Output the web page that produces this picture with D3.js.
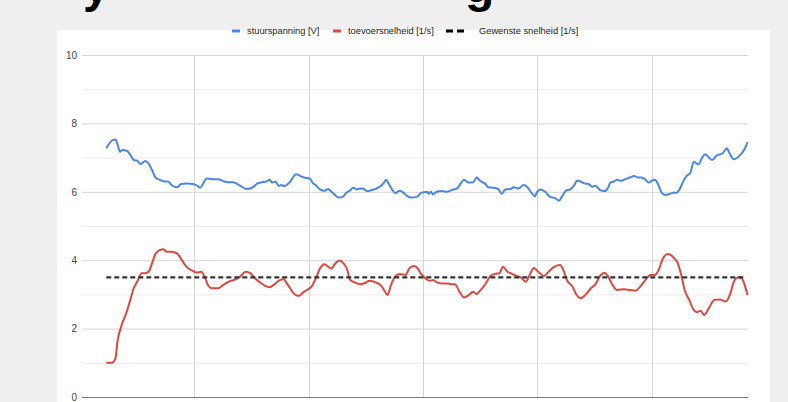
<!DOCTYPE html>
<html>
<head>
<meta charset="utf-8">
<script src="https://cdn.jsdelivr.net/npm/d3@7"></script>
<style>
  html, body { margin: 0; padding: 0; background: #efefef; }
  svg { display: block; }
  text { font-family: "Liberation Sans", Arial, sans-serif; }
</style>
</head>
<body>
<svg id="chart" width="788" height="402"></svg>
<script>
// Time axis in seconds, values per series
const stuurTijd = [2.3,2.8,3.1,3.3,3.5,3.7,4.1,4.4,4.7,5.0,5.3,5.7,6.0,6.3,6.6,7.0,7.4,7.7,8.0,8.5,8.8,9.3,9.9,10.3,10.5,11.1,11.5,12.1,12.5,13.0,13.4,14.0,14.6,15.2,15.5,15.9,16.3,16.6,16.8,17.1,17.4,17.6,17.9,18.4,18.9,19.3,19.6,20.1,20.4,20.6,21.0,21.4,21.7,22.0,22.3,22.6,23.0,23.3,23.6,23.9,24.2,24.5,24.8,25.1,25.5,25.9,26.3,26.6,26.8,27.0,27.3,27.6,27.9,28.2,28.6,29.0,29.5,29.8,30.1,30.4,30.5,30.7,30.9,31.2,31.7,32.1,32.5,33.0,33.3,33.6,34.0,34.4,34.7,35.0,35.5,35.7,36.2,36.6,36.9,37.2,37.7,37.9,38.4,38.8,39.1,39.5,39.8,40.0,40.3,40.7,41.1,41.6,41.9,42.2,42.5,42.9,43.2,43.5,43.8,44.2,44.5,44.8,45.1,45.5,45.9,46.2,46.4,46.7,47.0,47.3,47.7,48.1,48.5,48.8,49.1,49.4,49.8,50.0,50.3,50.6,50.9,51.2,51.6,51.9,52.2,52.5,52.8,53.1,53.4,53.7,54.1,54.4,54.7,55.0,55.3,55.7,56.2,56.6,56.8,57.2,57.7,58.1,58.4];
const stuurspanning = [7.27,7.50,7.53,7.37,7.17,7.22,7.20,7.08,6.93,6.91,6.81,6.90,6.83,6.64,6.42,6.35,6.30,6.30,6.20,6.13,6.22,6.24,6.23,6.17,6.12,6.39,6.37,6.37,6.32,6.28,6.28,6.18,6.08,6.15,6.24,6.28,6.30,6.35,6.27,6.30,6.17,6.20,6.17,6.30,6.51,6.46,6.42,6.39,6.24,6.20,6.07,6.03,6.08,6.00,5.91,5.83,5.86,5.97,6.03,6.12,6.07,6.10,6.09,6.02,6.05,6.09,6.17,6.27,6.35,6.24,6.07,5.96,6.03,6.00,5.88,5.83,5.86,5.96,5.99,6.00,5.94,6.00,5.92,6.00,6.02,6.00,6.05,6.10,6.24,6.35,6.27,6.28,6.42,6.32,6.22,6.13,6.12,6.08,5.94,6.07,6.08,6.13,6.10,6.20,6.15,5.97,5.87,6.00,6.07,6.00,5.86,5.81,5.74,5.88,6.03,6.07,6.17,6.32,6.30,6.24,6.23,6.15,6.18,6.05,6.02,6.12,6.27,6.30,6.35,6.32,6.37,6.42,6.46,6.42,6.42,6.37,6.27,6.32,6.35,6.20,5.97,5.91,5.94,5.97,5.97,6.10,6.32,6.47,6.56,6.88,6.80,6.98,7.10,7.01,6.93,7.06,7.12,7.27,7.14,6.95,7.06,7.22,7.45];

const toevoerTijd = [2.3,2.8,3.1,3.3,3.6,4.1,4.4,4.7,5.0,5.4,5.7,6.0,6.3,6.6,7.0,7.3,7.6,8.0,8.5,8.9,9.3,9.8,10.2,10.6,10.9,11.2,11.5,12.1,12.5,13.0,13.6,14.0,14.5,14.9,15.3,15.8,16.2,16.6,16.9,17.4,17.8,18.2,18.7,19.1,19.6,20.3,20.7,21.0,21.4,21.7,22.0,22.3,22.7,23.0,23.4,23.6,24.1,24.5,25.0,25.3,25.8,26.3,26.6,26.9,27.2,27.6,28.0,28.5,28.8,29.2,29.5,29.8,30.2,30.6,30.9,31.3,31.7,32.1,32.5,32.8,33.2,33.6,34.0,34.4,34.7,35.0,35.5,35.9,36.3,36.7,37.0,37.4,37.8,38.2,38.6,39.0,39.3,39.7,40.1,40.6,41.0,41.4,42.0,42.3,42.6,43.1,43.4,43.8,44.2,44.7,45.1,45.5,45.9,46.2,46.6,47.0,47.6,48.1,48.6,49.0,49.5,49.9,50.3,50.6,51.0,51.4,51.7,52.0,52.3,52.6,52.9,53.3,53.7,54.0,54.3,54.6,55.0,55.5,56.0,56.5,56.9,57.2,57.6,57.9,58.2,58.4];
const toevoersnelheid = [1.00,1.00,1.13,1.67,2.06,2.50,2.84,3.18,3.37,3.62,3.62,3.66,3.91,4.18,4.30,4.32,4.25,4.25,4.20,4.01,3.81,3.70,3.64,3.66,3.52,3.27,3.18,3.18,3.27,3.37,3.44,3.52,3.66,3.62,3.47,3.34,3.25,3.21,3.27,3.40,3.44,3.27,3.03,2.95,3.08,3.25,3.52,3.76,3.88,3.81,3.76,3.89,3.99,3.93,3.70,3.44,3.34,3.30,3.34,3.40,3.36,3.27,3.13,2.98,3.27,3.54,3.60,3.57,3.76,3.83,3.78,3.62,3.47,3.40,3.42,3.34,3.32,3.32,3.30,3.30,3.08,2.91,2.98,3.08,3.01,3.11,3.32,3.54,3.60,3.62,3.81,3.66,3.60,3.54,3.49,3.37,3.54,3.77,3.66,3.54,3.66,3.79,3.86,3.70,3.42,3.22,3.01,2.89,2.98,3.18,3.30,3.54,3.63,3.52,3.27,3.13,3.15,3.13,3.11,3.22,3.44,3.57,3.57,3.70,4.05,4.18,4.15,4.05,3.91,3.57,3.13,2.84,2.54,2.48,2.52,2.40,2.59,2.84,2.85,2.79,3.03,3.37,3.50,3.47,3.22,2.98];

const gewensteTijd = [2.3, 58.2];
const gewensteSnelheid = [3.5, 3.5];

const yTicks = [0, 2, 4, 6, 8, 10];
const yMinor = [1, 3, 5, 7, 9];
const xGrid = [10, 20, 30, 40, 50];

const seriesNames = ["stuurspanning [V]", "toevoersnelheid [1/s]", "Gewenste snelheid [1/s]"];
const seriesColors = ["#4a86e8", "#e0473d", "#333333"];

const svg = d3.select("#chart");
const W = 788, H = 402;

// page backdrop and chart card
svg.append("rect").attr("width", W).attr("height", H).attr("fill", "#efefef");
svg.append("rect").attr("x", 57).attr("y", 30).attr("width", 713).attr("height", H - 30).attr("fill", "#ffffff");

// slide heading, mostly above the visible area
const kop = svg.append("g").attr("fill", "#000").attr("font-weight", "bold")
  .attr("font-family", "Roboto, 'Liberation Sans', sans-serif").attr("font-size", 48);
kop.append("text").attr("x", 83).attr("y", 2).text("y");
kop.append("text").attr("x", 465).attr("y", 2).text("g");

const x = d3.scaleLinear().domain([0, 58.44]).range([80, 748]);
const y = d3.scaleLinear().domain([0, 10]).range([397, 55]);

const plot = svg.append("g");

// minor horizontal grid
plot.append("g").selectAll("line").data(yMinor).join("line")
  .attr("x1", x(0) + 2).attr("x2", x(58.44))
  .attr("y1", d => y(d) + 0.5).attr("y2", d => y(d) + 0.5)
  .attr("stroke", "#ececec").attr("stroke-width", 1);

// major horizontal grid
plot.append("g").selectAll("line").data(yTicks.filter(d => d !== 0)).join("line")
  .attr("x1", x(0) + 2).attr("x2", x(58.44))
  .attr("y1", d => y(d) + 0.5).attr("y2", d => y(d) + 0.5)
  .attr("stroke", "#d6d6d6").attr("stroke-width", 1);

// vertical grid
plot.append("g").selectAll("line").data(xGrid).join("line")
  .attr("x1", d => Math.round(x(d)) + 0.5).attr("x2", d => Math.round(x(d)) + 0.5)
  .attr("y1", y(10)).attr("y2", y(0))
  .attr("stroke", "#d6d6d6").attr("stroke-width", 1);

// baseline
plot.append("line")
  .attr("x1", x(0) + 2).attr("x2", x(58.44))
  .attr("y1", y(0) + 0.5).attr("y2", y(0) + 0.5)
  .attr("stroke", "#777").attr("stroke-width", 1);

// y axis labels
const yAxis = d3.axisLeft(y).tickValues(yTicks).tickSize(0).tickPadding(0).tickFormat(d3.format("d"));
const yg = svg.append("g").attr("transform", "translate(77,0)").call(yAxis);
yg.select(".domain").remove();
yg.selectAll("text").attr("fill", "#444").attr("font-size", 10)
  .attr("font-family", "'Liberation Sans', Arial, sans-serif");

const line = d3.line().x(d => x(d[0])).y(d => y(d[1])).curve(d3.curveMonotoneX);

const blueData = d3.zip(stuurTijd, stuurspanning);
const redData = d3.zip(toevoerTijd, toevoersnelheid);
const dashData = d3.zip(gewensteTijd, gewensteSnelheid);

plot.append("path").datum(blueData).attr("d", line)
  .attr("fill", "none").attr("stroke", seriesColors[0]).attr("stroke-width", 2).attr("stroke-linejoin", "round");
plot.append("path").datum(redData).attr("d", line)
  .attr("fill", "none").attr("stroke", seriesColors[1]).attr("stroke-width", 2).attr("stroke-linejoin", "round");
plot.append("path").datum(dashData).attr("d", line)
  .attr("fill", "none").attr("stroke", seriesColors[2]).attr("stroke-width", 2.2).attr("stroke-dasharray", "5,3");

// legend
const legend = svg.append("g").attr("transform", "translate(0,31)");
const legendFont = 9.3;
const items = [
  { x: 232, w: 8, dashed: false },
  { x: 333, w: 8, dashed: false },
  { x: 446, w: 18, dashed: true }
];
items.forEach((it, i) => {
  const g = legend.append("g");
  if (it.dashed) {
    g.append("line").attr("x1", it.x).attr("x2", it.x + it.w).attr("y1", 0).attr("y2", 0)
      .attr("stroke", "#000").attr("stroke-width", 3).attr("stroke-dasharray", "7,4");
  } else {
    g.append("line").attr("x1", it.x).attr("x2", it.x + it.w).attr("y1", 0).attr("y2", 0)
      .attr("stroke", seriesColors[i]).attr("stroke-width", 3);
  }
  g.append("text").attr("x", it.x + it.w + (it.dashed ? 15 : 7)).attr("y", 0).attr("dy", "0.35em")
    .attr("font-size", legendFont).attr("fill", "#222").text(seriesNames[i]);
});
</script>
</body>
</html>
